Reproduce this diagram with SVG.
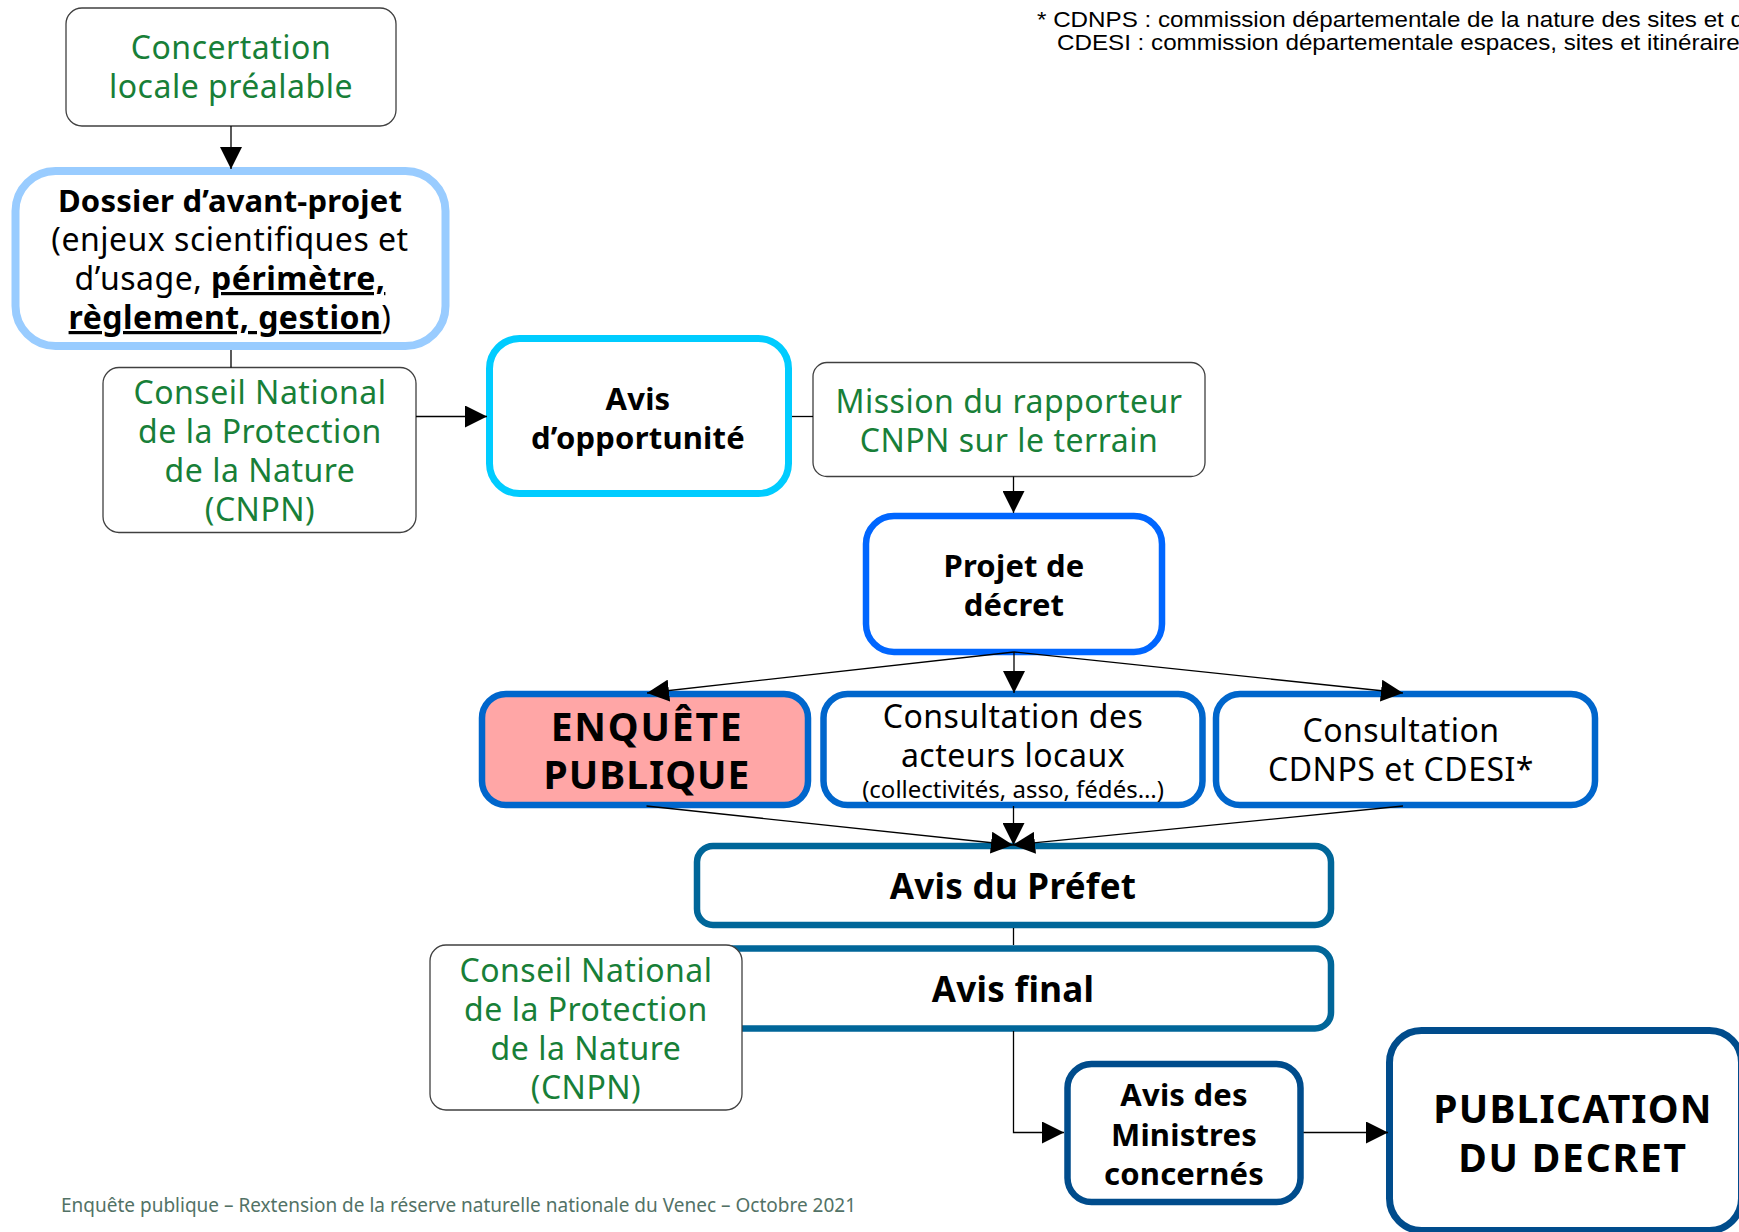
<svg xmlns="http://www.w3.org/2000/svg" width="1739" height="1232" viewBox="0 0 1739 1232">
<style>
.thin{fill:#fff;stroke:#404040;stroke-width:1.3}
.t{font-family:"Noto Sans","Open Sans",sans-serif;font-size:32px;text-anchor:middle;letter-spacing:0.5px}
.g{fill:#187F38}
.k{fill:#000}
.b{font-weight:bold;font-size:31px;letter-spacing:0.2px}
.b35{font-weight:bold;font-size:35px;letter-spacing:0.3px}
.big{font-family:"Noto Sans","Open Sans",sans-serif;font-weight:bold;font-size:39px;text-anchor:middle;letter-spacing:1.8px;fill:#000}
.con{fill:none;stroke:#000;stroke-width:1.3}
.note{font-family:"Liberation Sans",Arial,sans-serif;font-size:22px;fill:#000}
</style>
<defs>
<marker id="ah" markerUnits="userSpaceOnUse" markerWidth="22" markerHeight="22" refX="22" refY="11" orient="auto">
<path d="M0,0 L22,11 L0,22 z" fill="#000"/>
</marker>
</defs>

<g id="note">
<text class="note" transform="translate(1037,27) scale(1.1,1)">* CDNPS : commission départementale de la nature des sites et d</text>
<text class="note" transform="translate(1057,50) scale(1.1,1)">CDESI : commission départementale espaces, sites et itinéraire</text>
</g>

<g id="concertation">
<rect class="thin" x="66" y="8" width="330" height="118" rx="16"/>
<text class="t g" x="231" y="59">Concertation<tspan x="231" dy="39">locale préalable</tspan></text>
</g>

<g id="dossier">
<rect x="15.5" y="171" width="430" height="175" rx="40" fill="#fff" stroke="#99CCFF" stroke-width="8"/>
<text class="t k" x="230" y="212"><tspan class="b">Dossier d’avant-projet</tspan><tspan x="230" dy="39">(enjeux scientifiques et</tspan><tspan x="230" dy="39">d’usage, </tspan><tspan font-weight="bold" text-decoration="underline">périmètre,</tspan><tspan x="230" dy="39" font-weight="bold" text-decoration="underline">règlement, gestion</tspan><tspan>)</tspan></text>
</g>

<g id="cnpn1">
<rect class="thin" x="103" y="367.5" width="313" height="165" rx="16"/>
<text class="t g" x="260" y="404">Conseil National<tspan x="260" dy="39">de la Protection</tspan><tspan x="260" dy="39">de la Nature</tspan><tspan x="260" dy="39">(CNPN)</tspan></text>
</g>

<g id="avis-opportunite">
<rect x="489.5" y="338.5" width="299" height="155" rx="30" fill="#fff" stroke="#00CCFF" stroke-width="7"/>
<text class="t k b" x="638" y="410">Avis<tspan x="638" dy="39">d’opportunité</tspan></text>
</g>

<g id="mission">
<rect class="thin" x="813" y="362.5" width="392" height="114" rx="14"/>
<text class="t g" x="1009" y="413">Mission du rapporteur<tspan x="1009" dy="39">CNPN sur le terrain</tspan></text>
</g>

<g id="projet">
<rect x="866" y="516" width="296" height="136" rx="28" fill="#fff" stroke="#0066FF" stroke-width="6.5"/>
<text class="t k b" x="1014" y="577">Projet de<tspan x="1014" dy="39">décret</tspan></text>
</g>

<g id="enquete">
<rect x="482" y="694" width="326" height="111" rx="24" fill="#FFA6A6" stroke="#0066CC" stroke-width="6.5"/>
<text class="big" x="647" y="741">ENQUÊTE<tspan x="647" dy="48" style="letter-spacing:1px">PUBLIQUE</tspan></text>
</g>

<g id="consultation-acteurs">
<rect x="823.5" y="694" width="379" height="111" rx="24" fill="#fff" stroke="#0066CC" stroke-width="6.5"/>
<text class="t k" x="1013" y="728">Consultation des<tspan x="1013" dy="39">acteurs locaux</tspan><tspan x="1013" dy="31" style="font-size:24px;letter-spacing:0">(collectivités, asso, fédés…)</tspan></text>
</g>

<g id="consultation-cdnps">
<rect x="1216" y="694" width="379" height="111" rx="24" fill="#fff" stroke="#0066CC" stroke-width="6.5"/>
<text class="t k" x="1401" y="742">Consultation<tspan x="1401" dy="39">CDNPS et CDESI*</tspan></text>
</g>

<g id="avis-prefet">
<rect x="697" y="846" width="634" height="79" rx="16" fill="#fff" stroke="#006699" stroke-width="6.5"/>
<text class="t k b35" x="1013" y="899">Avis du Préfet</text>
</g>

<g id="avis-final">
<rect x="697" y="948.5" width="634" height="80" rx="16" fill="#fff" stroke="#006699" stroke-width="6.5"/>
<text class="t k b35" x="1013" y="1002">Avis final</text>
</g>

<g id="cnpn2">
<rect class="thin" x="430" y="945" width="312" height="165" rx="16"/>
<text class="t g" x="586" y="982">Conseil National<tspan x="586" dy="39">de la Protection</tspan><tspan x="586" dy="39">de la Nature</tspan><tspan x="586" dy="39">(CNPN)</tspan></text>
</g>

<g id="avis-ministres">
<rect x="1067.5" y="1064" width="233" height="138" rx="24" fill="#fff" stroke="#004C8C" stroke-width="6.5"/>
<text class="t k b" x="1184" y="1106">Avis des<tspan x="1184" dy="39.5">Ministres</tspan><tspan x="1184" dy="39">concernés</tspan></text>
</g>

<g id="publication">
<rect x="1389.5" y="1030.5" width="352" height="200" rx="32" fill="#fff" stroke="#004C8C" stroke-width="7"/>
<text class="big" x="1573" y="1123" style="letter-spacing:1.2px">PUBLICATION<tspan x="1573" dy="49" style="letter-spacing:1.8px">DU DECRET</tspan></text>
</g>

<g id="connectors">
<line class="con" x1="231" y1="126" x2="231" y2="169" marker-end="url(#ah)"/>
<line class="con" x1="231" y1="350" x2="231" y2="367.5"/>
<line class="con" x1="416" y1="416.5" x2="487" y2="416.5" marker-end="url(#ah)"/>
<line class="con" x1="792" y1="416.5" x2="813" y2="416.5"/>
<line class="con" x1="1013.5" y1="476.5" x2="1013.5" y2="513" marker-end="url(#ah)"/>
<line class="con" x1="1014" y1="652" x2="647" y2="693" marker-end="url(#ah)"/>
<line class="con" x1="1014" y1="652" x2="1014" y2="693" marker-end="url(#ah)"/>
<line class="con" x1="1014" y1="652" x2="1403" y2="693" marker-end="url(#ah)"/>
<line class="con" x1="646.5" y1="806" x2="1013" y2="845" marker-end="url(#ah)"/>
<line class="con" x1="1013.5" y1="806" x2="1013.5" y2="845" marker-end="url(#ah)"/>
<line class="con" x1="1403" y1="806" x2="1013" y2="845" marker-end="url(#ah)"/>
<line class="con" x1="1013.5" y1="928" x2="1013.5" y2="945"/>
<polyline class="con" points="1013.5,1031 1013.5,1132.5 1064,1132.5" marker-end="url(#ah)"/>
<line class="con" x1="1303.5" y1="1132.5" x2="1388" y2="1132.5" marker-end="url(#ah)"/>
</g>

<text x="61" y="1212" font-family="'Noto Sans','Open Sans',sans-serif" font-size="19" fill="#527266">Enquête publique – Rextension de la réserve naturelle nationale du Venec – Octobre 2021</text>
</svg>
